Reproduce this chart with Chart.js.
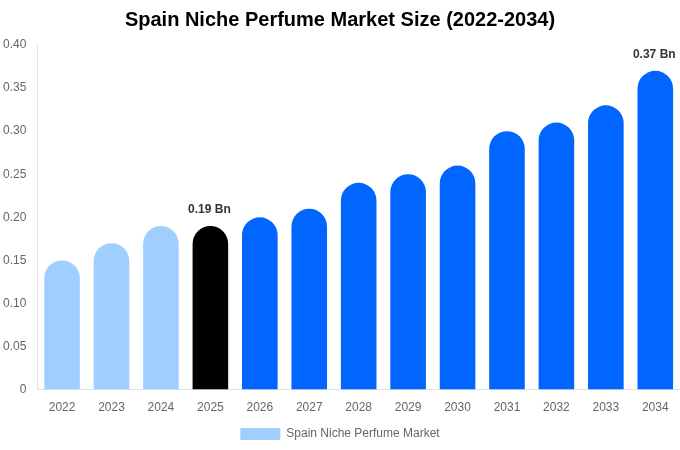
<!DOCTYPE html>
<html>
<head>
<meta charset="utf-8">
<script src="https://cdn.jsdelivr.net/npm/chart.js@4"></script>
<style>
  html, body { margin: 0; padding: 0; background: #fff; }
  #wrap { width: 680px; height: 450px; }
</style>
</head>
<body>
<div id="wrap"><canvas id="marketChart"></canvas></div>
<script>
const years = ['2022', '2023', '2024', '2025', '2026', '2027', '2028', '2029', '2030', '2031', '2032', '2033', '2034'];
const marketSize = [0.15, 0.17, 0.19, 0.19, 0.20, 0.21, 0.24, 0.25, 0.26, 0.30, 0.31, 0.33, 0.37];
const barColors = ['#A0CFFF', '#A0CFFF', '#A0CFFF', '#000000', '#0066FF', '#0066FF', '#0066FF', '#0066FF', '#0066FF', '#0066FF', '#0066FF', '#0066FF', '#0066FF'];
const labelledBars = [3, 12]; // 2025 and 2034 get a value label

Chart.defaults.font.family = '"Liberation Sans", Arial, sans-serif';

// writes "x.xx Bn" above the chosen bars
const valueLabels = {
    id: 'valueLabels',
    afterDatasetsDraw(chart) {
        const ctx = chart.ctx;
        const meta = chart.getDatasetMeta(0);
        ctx.save();
        ctx.font = 'bold 12px "Liberation Sans", Arial, sans-serif';
        ctx.fillStyle = '#333';
        ctx.textAlign = 'center';
        ctx.textBaseline = 'bottom';
        labelledBars.forEach(i => {
            const bar = meta.data[i];
            ctx.fillText(marketSize[i].toFixed(2) + ' Bn', bar.x - 1, bar.y - 10);
        });
        ctx.restore();
    }
};

new Chart(document.getElementById('marketChart'), {
    type: 'bar',
    data: {
        labels: years,
        datasets: [{
            label: 'Spain Niche Perfume Market',
            data: marketSize,
            backgroundColor: barColors,
            borderRadius: 20,
            borderSkipped: 'bottom',
            barPercentage: 0.9,
            categoryPercentage: 0.8
        }]
    },
    options: {
        responsive: true,
        maintainAspectRatio: false,
        animation: false,
        layout: { padding: { left: 0, right: 0, top: 0, bottom: 0 } },
        scales: {
            y: {
                beginAtZero: true,
                max: 0.4,
                ticks: {
                    stepSize: 0.05,
                    color: '#666',
                    font: { size: 12 },
                    callback: v => v === 0 ? '0' : v.toFixed(2)
                },
                grid: { display: false },
                border: { color: '#e0e0e0' }
            },
            x: {
                ticks: { color: '#666', font: { size: 12 } },
                grid: { display: false },
                border: { color: '#e0e0e0' }
            }
        },
        plugins: {
            title: {
                display: true,
                text: 'Spain Niche Perfume Market Size (2022-2034)',
                color: '#000',
                font: { size: 20, weight: 'bold' },
                padding: { top: 8, bottom: 13 }
            },
            legend: {
                position: 'bottom',
                labels: {
                    color: '#666',
                    font: { size: 12 },
                    boxWidth: 40,
                    boxHeight: 12,
                    generateLabels: () => [{
                        text: 'Spain Niche Perfume Market',
                        fillStyle: '#A0CFFF',
                        strokeStyle: '#A0CFFF',
                        lineWidth: 0,
                        fontColor: '#666'
                    }]
                }
            },
            tooltip: { enabled: false }
        }
    },
    plugins: [valueLabels]
});
</script>
</body>
</html>
